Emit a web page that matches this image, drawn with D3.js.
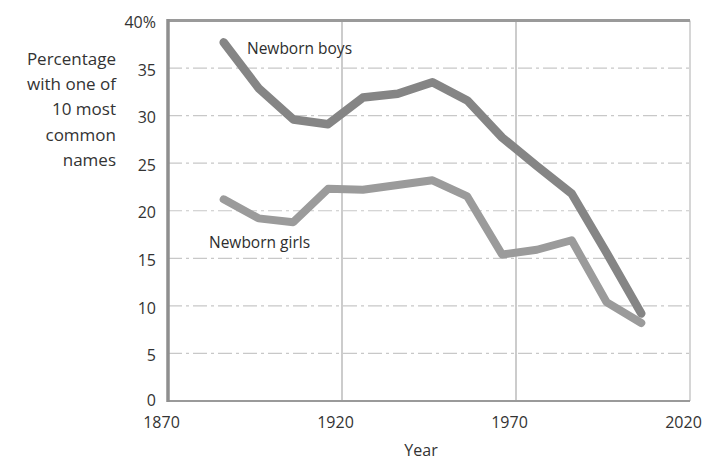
<!DOCTYPE html>
<html><head><meta charset="utf-8">
<script src="https://cdn.jsdelivr.net/npm/d3@7"></script>
<style>body{margin:0;background:#fff}svg{display:block}</style>
</head><body>
<svg id="c" width="715" height="460"></svg>
<script>
const years = [1886,1896,1906,1916,1926,1936,1946,1956,1966,1976,1986,1996,2006];
const boys  = [37.7,32.9,29.6,29.1,31.9,32.3,33.5,31.6,27.7,24.7,21.8,15.6,9.2];
const girls = [21.2,19.2,18.8,22.3,22.2,22.7,23.2,21.5,15.4,15.9,16.9,10.4,8.2];
const yTicks = [0,5,10,15,20,25,30,35,40];
const xTicks = [1870,1920,1970,2020];
const yLabelLines = ["Percentage","with one of","10 most","common","names"];

const svg = d3.select("#c");
const font = "'Open Sans', sans-serif";
const x = d3.scaleLinear().domain([1870,2020]).range([168,690]);
const y = d3.scaleLinear().domain([0,40]).range([401,20.5]);

// horizontal dashed gridlines
svg.append("g").selectAll("line").data(yTicks.filter(d=>d>0&&d<40)).join("line")
  .attr("x1",x(1870)).attr("x2",x(2020))
  .attr("y1",d=>y(d)).attr("y2",d=>y(d))
  .attr("stroke","#c8c8c8").attr("stroke-width",1.2).attr("stroke-dasharray","14,4,3,4");

// vertical gridlines
svg.append("g").selectAll("line").data([1920,1970]).join("line")
  .attr("x1",d=>x(d)).attr("x2",d=>x(d)).attr("y1",y(40)).attr("y2",y(0))
  .attr("stroke","#aaa").attr("stroke-width",1.2);

// frame
svg.append("line").attr("x1",x(2020)).attr("x2",x(2020)).attr("y1",y(40)).attr("y2",y(0)).attr("stroke","#bbb").attr("stroke-width",1.2);
svg.append("line").attr("x1",x(1870)).attr("x2",x(2020)).attr("y1",y(40)).attr("y2",y(40)).attr("stroke","#9a9a9a").attr("stroke-width",3);
svg.append("line").attr("x1",x(1870)).attr("x2",x(2020)).attr("y1",y(0)).attr("y2",y(0)).attr("stroke","#9a9a9a").attr("stroke-width",2);
svg.append("line").attr("x1",x(1870)).attr("x2",x(1870)).attr("y1",y(40)-1.5).attr("y2",y(0)+1).attr("stroke","#8f8f8f").attr("stroke-width",3.5);

// axes via d3
const yAxis = d3.axisLeft(y).tickValues(yTicks).tickSize(0).tickPadding(12)
  .tickFormat(d=>d===40?"40%":d);
const gy = svg.append("g").attr("transform",`translate(${x(1870)},2)`).call(yAxis);
gy.select(".domain").remove();
gy.selectAll("text").attr("font-family",font).attr("font-size",16).attr("fill","#333");
gy.selectAll(".tick").filter(d=>d===0).select("text").attr("y",-3);

const xAxis = d3.axisBottom(x).tickValues(xTicks).tickSize(0).tickPadding(16).tickFormat(d3.format("d"));
const gx = svg.append("g").attr("transform",`translate(-7,${y(0)})`).call(xAxis);
gx.select(".domain").remove();
gx.selectAll("text").attr("font-family",font).attr("font-size",16).attr("fill","#333");

svg.append("text").attr("x",(x(1870)+x(2020))/2-8).attr("y",456).attr("text-anchor","middle")
  .attr("font-family",font).attr("font-size",16).attr("fill","#333").text("Year");

svg.append("g").selectAll("text").data(yLabelLines).join("text")
  .attr("x",116).attr("y",(d,i)=>65+i*25.2).attr("text-anchor","end")
  .attr("font-family",font).attr("font-size",17).attr("fill","#333").text(d=>d);

// lines
const line = d3.line().x((d,i)=>x(years[i])).y(d=>y(d));
svg.append("path").datum(girls).attr("d",line).attr("fill","none")
  .attr("stroke","#9b9b9b").attr("stroke-width",8).attr("stroke-linejoin","round").attr("stroke-linecap","round");
svg.append("path").datum(boys).attr("d",line).attr("fill","none")
  .attr("stroke","#858585").attr("stroke-width",8.5).attr("stroke-linejoin","round").attr("stroke-linecap","round");

svg.append("text").attr("x",247).attr("y",54).attr("font-family",font).attr("font-size",15.5).attr("fill","#2e2e2e").text("Newborn boys");
svg.append("text").attr("x",209).attr("y",248).attr("font-family",font).attr("font-size",15.5).attr("fill","#2e2e2e").text("Newborn girls");
</script>
</body></html>
